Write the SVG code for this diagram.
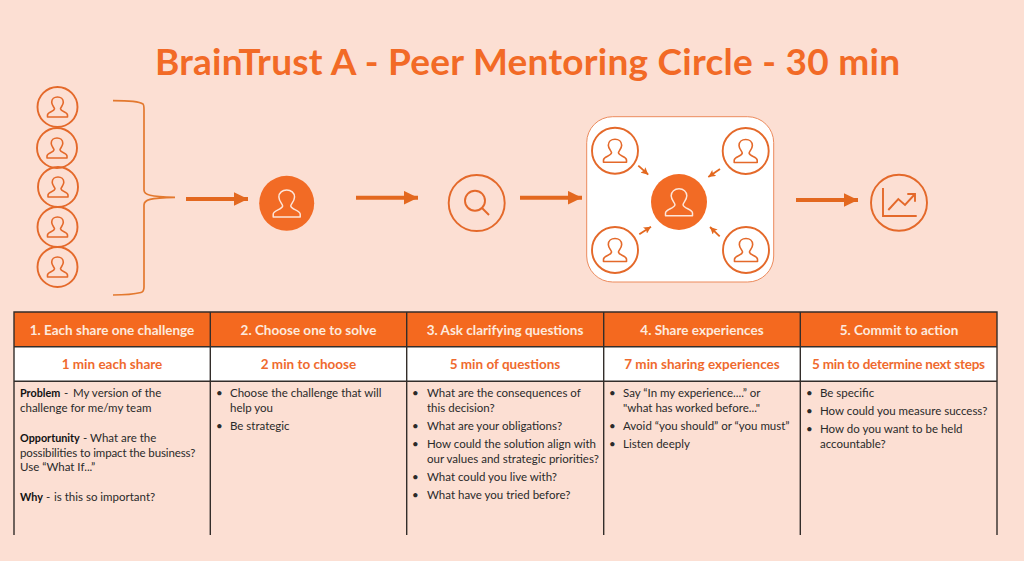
<svg xmlns="http://www.w3.org/2000/svg" width="1024" height="561" viewBox="0 0 1024 561">
<style>
text{font-family:"Lato","Liberation Sans",sans-serif}
.title{font-size:37px;font-weight:700;fill:#f26a26}
.ring{fill:none;stroke:#e4692a;stroke-width:1.9}
.person{fill:none;stroke:#e4692a;stroke-width:1.6;stroke-linejoin:round}
.solid{fill:#f26b25}
.personw{fill:none;stroke:#fde6da;stroke-width:1.1;stroke-linejoin:round}
.conn{fill:none;stroke:#e3681f;stroke-width:4}
.thin{fill:none;stroke:#e3792f;stroke-width:1.7}
.tiny{fill:none;stroke:#e3681f;stroke-width:1.8}
.h{font-size:13.5px;font-weight:700;fill:#fde9de;text-anchor:middle}
.m{font-size:13.5px;font-weight:700;fill:#ef6a2e;text-anchor:middle}
.b{font-size:11.5px;fill:#2a2a2a}
.bb{font-weight:700;fill:#111;font-size:10.8px}
.grid{stroke:#332d2a;stroke-width:1.4;fill:none}
</style>
<defs>
<path id="p" d="M-10,10H10V8C10,4.800 3.300,4.800 3,1.800C3,.4 5.800,-1.800 5.800,-4.800C5.800,-8 3.200,-10 0,-10C-3.200,-10 -5.800,-8 -5.800,-4.800C-5.800,-1.800 -3,.4 -3,1.800C-3.300,4.800 -10,4.800 -10,8Z"/>
<marker id="a" viewBox="0 0 10 10" refX="10" refY="5" markerWidth="3.500" markerHeight="3.400" orient="auto" preserveAspectRatio="none"><path d="M0,0L10,5L0,10Z" fill="#e3681f"/></marker>
<marker id="t" viewBox="0 0 10 10" refX="10" refY="5" markerWidth="4" markerHeight="4" orient="auto"><path d="M0,0L10,5L0,10L2,5Z" fill="#e3681f"/></marker>
</defs>
<rect width="1024" height="561" fill="#fcdfd3"/>
<text class="title" x="155" y="75" textLength="745">BrainTrust A - Peer Mentoring Circle - 30 min</text>
<g id="peers">
<g id="peer1"><circle class="ring" cx="57.500" cy="107" r="20"/><use href="#p" class="person" x="57.500" y="107"/></g>
<g id="peer2"><circle class="ring" cx="57" cy="148" r="20"/><use href="#p" class="person" x="57" y="148"/></g>
<g id="peer3"><circle class="ring" cx="58" cy="187" r="20"/><use href="#p" class="person" x="58" y="187"/></g>
<g id="peer4"><circle class="ring" cx="57.500" cy="227" r="20"/><use href="#p" class="person" x="57.500" y="227"/></g>
<g id="peer5"><circle class="ring" cx="57.500" cy="267" r="20"/><use href="#p" class="person" x="57.500" y="267"/></g>
</g>
<g id="chosen"><circle class="solid" cx="286.700" cy="203.300" r="27.500"/><use href="#p" class="personw" transform="translate(286.700 203.500) scale(1.350)"/></g>
<g id="search"><circle class="ring" cx="476.700" cy="203" r="28"/><circle class="ring" cx="475" cy="200.700" r="10"/><path class="ring" d="M482,208L489,215"/></g>
<g id="circle-panel">
<rect x="586.700" y="116.700" width="187" height="165.300" rx="26" fill="#fff" stroke="#ec8b5d" stroke-width="1"/>
<g id="mentor1"><circle class="ring" cx="615" cy="150.700" r="23"/><use href="#p" class="person" transform="translate(615 150.700) scale(1.150)" style="stroke-width:1.400"/></g>
<g id="mentor2"><circle class="ring" cx="745.700" cy="151" r="23"/><use href="#p" class="person" transform="translate(745.700 151) scale(1.150)" style="stroke-width:1.400"/></g>
<g id="mentor3"><circle class="ring" cx="615" cy="250" r="23"/><use href="#p" class="person" transform="translate(615 250) scale(1.150)" style="stroke-width:1.400"/></g>
<g id="mentor4"><circle class="ring" cx="746" cy="250" r="23"/><use href="#p" class="person" transform="translate(746 250) scale(1.150)" style="stroke-width:1.400"/></g>
<g id="center"><circle class="solid" cx="679" cy="202" r="28"/><use href="#p" class="personw" transform="translate(679 202.300) scale(1.350)"/></g>
</g>
<g id="outcome"><circle class="ring" cx="899" cy="202.700" r="28"/><path class="ring" d="M883,188V216H916.700M888.300,210L898.300,199L905,205L915,194M907.300,194H915V201.700"/></g>
<g id="connectors">
<path class="thin" d="M113,100.700C128,100.700 140,102 143,104C144,105 144,107 144,110V190C144,195 150,196.500 175,197.300C150,198 144,199.500 144,205V287C144,291 143,292 141,292.500C135,294 125,295 113,295"/>
<path class="conn" d="M186,199H248" marker-end="url(#a)"/>
<path class="conn" d="M356,197.700H418" marker-end="url(#a)"/>
<path class="conn" d="M520,197.700H582" marker-end="url(#a)"/>
<path class="conn" d="M796,200H858" marker-end="url(#a)"/>
<path class="tiny" d="M638.300,165.700L648.300,174.700" marker-end="url(#t)"/>
<path class="tiny" d="M720,169L708.300,177" marker-end="url(#t)"/>
<path class="tiny" d="M639.300,234.300L651,226.700" marker-end="url(#t)"/>
<path class="tiny" d="M719.700,236.300L710,227" marker-end="url(#t)"/>
</g>
<g id="table">
<rect x="14" y="312" width="983" height="35" fill="#f4691f"/>
<rect x="14" y="347" width="983" height="34" fill="#fff"/>
<path class="grid" d="M14,535V312H997V535M210.300,312V535M406.700,312V535M603.700,312V535M800.300,312V535M14,346.700H997M14,381.300H997"/>
<text class="h" x="112" y="335">1. Each share one challenge</text>
<text class="h" x="308.500" y="335">2. Choose one to solve</text>
<text class="h" x="505" y="335">3. Ask clarifying questions</text>
<text class="h" x="702" y="335">4. Share experiences</text>
<text class="h" x="899" y="335">5. Commit to action</text>
<text class="m" x="112" y="369">1 min each share</text>
<text class="m" x="308.500" y="369">2 min to choose</text>
<text class="m" x="505" y="369">5 min of questions</text>
<text class="m" x="702" y="369">7 min sharing experiences</text>
<text class="m" x="898.500" y="369" textLength="173">5 min to determine next steps</text>
<text class="b" x="20" y="397"><tspan class="bb">Problem</tspan><tspan x="64">-</tspan><tspan x="73">My version of the</tspan></text>
<text class="b" x="20" y="412">challenge for me/my team</text>
<text class="b" x="20" y="442"><tspan class="bb">Opportunity</tspan><tspan x="83">- What are the</tspan></text>
<text class="b" x="20" y="457" textLength="175.500">possibilities to impact the business?</text>
<text class="b" x="20" y="471">Use “What If...”</text>
<text class="b" x="20" y="501"><tspan class="bb">Why</tspan><tspan x="46">-</tspan><tspan x="54">is this so important?</tspan></text>
<text class="b" x="216" y="397">•</text><text class="b" x="230" y="397">Choose the challenge that will</text>
<text class="b" x="230" y="412">help you</text>
<text class="b" x="216" y="430">•</text><text class="b" x="230" y="430">Be strategic</text>
<text class="b" x="412" y="397">•</text><text class="b" x="427" y="397">What are the consequences of</text>
<text class="b" x="427" y="412">this decision?</text>
<text class="b" x="412" y="430">•</text><text class="b" x="427" y="430">What are your obligations?</text>
<text class="b" x="412" y="448">•</text><text class="b" x="427" y="448">How could the solution align with</text>
<text class="b" x="427" y="463">our values and strategic priorities?</text>
<text class="b" x="412" y="481">•</text><text class="b" x="427" y="481">What could you live with?</text>
<text class="b" x="412" y="499">•</text><text class="b" x="427" y="499">What have you tried before?</text>
<text class="b" x="609" y="397">•</text><text class="b" x="623" y="397">Say “In my experience....” or</text>
<text class="b" x="623" y="412">"what has worked before..."</text>
<text class="b" x="609" y="430">•</text><text class="b" x="623" y="430">Avoid “you should” or “you must”</text>
<text class="b" x="609" y="448">•</text><text class="b" x="623" y="448">Listen deeply</text>
<text class="b" x="806" y="397">•</text><text class="b" x="820" y="397">Be specific</text>
<text class="b" x="806" y="415">•</text><text class="b" x="820" y="415">How could you measure success?</text>
<text class="b" x="806" y="433">•</text><text class="b" x="820" y="433">How do you want to be held</text>
<text class="b" x="820" y="448">accountable?</text>
</g>
</svg>
